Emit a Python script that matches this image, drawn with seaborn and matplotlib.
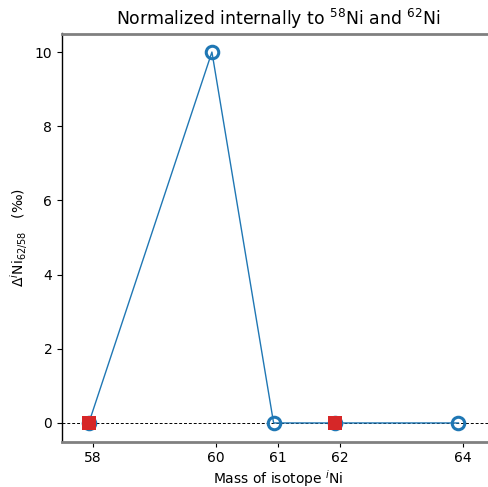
import matplotlib
matplotlib.use("Agg")
import matplotlib.pyplot as plt
import seaborn as sns
import pandas as pd

# Data
isotope_mass = [57.935, 59.931, 60.931, 61.928, 63.928]
delta_values = [0.0, 10.0, 0.0, 0.0, 0.0]
norm_mass = [57.935, 61.928]
norm_values = [0.0, 0.0]
tick_positions = [58, 60, 61, 62, 64]
tick_labels = ["58", "60", "61", "62", "64"]

df = pd.DataFrame({"mass": isotope_mass, "delta": delta_values})
dn = pd.DataFrame({"mass": norm_mass, "delta": norm_values})

fig = plt.figure(figsize=(4.89, 4.87), dpi=100)
ax = fig.add_axes([62/489, (487-441.5)/487, 431.7/489, 408/487])

ax.axhline(0, color="black", lw=0.7, ls=(0, (3, 2)), zorder=1)
sns.lineplot(data=df, x="mass", y="delta", ax=ax, color="#1f77b4", lw=1,
             marker="o", markersize=9, markerfacecolor="none",
             markeredgewidth=2.2, markeredgecolor="#1f77b4", zorder=2)
sns.scatterplot(data=dn, x="mass", y="delta", ax=ax, marker="s", s=105,
                color="#d62728", edgecolor="none", zorder=3)

ax.set_xlim(57.5, 64.5)
ax.set_ylim(-0.5, 10.5)
ax.set_xticks(tick_positions)
ax.set_xticklabels(tick_labels)
ax.set_yticks([0, 2, 4, 6, 8, 10])
ax.tick_params(labelsize=10)

ax.set_title(r"Normalized internally to $^{58}$Ni and $^{62}$Ni", fontsize=12.4)
ax.set_xlabel(r"Mass of isotope $^i$Ni", fontsize=10, labelpad=2)
ax.set_ylabel(r"$\Delta^i$Ni$_{62/58}$   (‰)", fontsize=10)

ax.spines["right"].set_visible(False)
ax.spines["top"].set_color("gray")
ax.spines["top"].set_linewidth(2)
ax.spines["bottom"].set_color("gray")
ax.spines["bottom"].set_linewidth(2)
ax.spines["left"].set_color("black")
ax.spines["left"].set_linewidth(1)

fig.savefig("out.png", dpi=100)
